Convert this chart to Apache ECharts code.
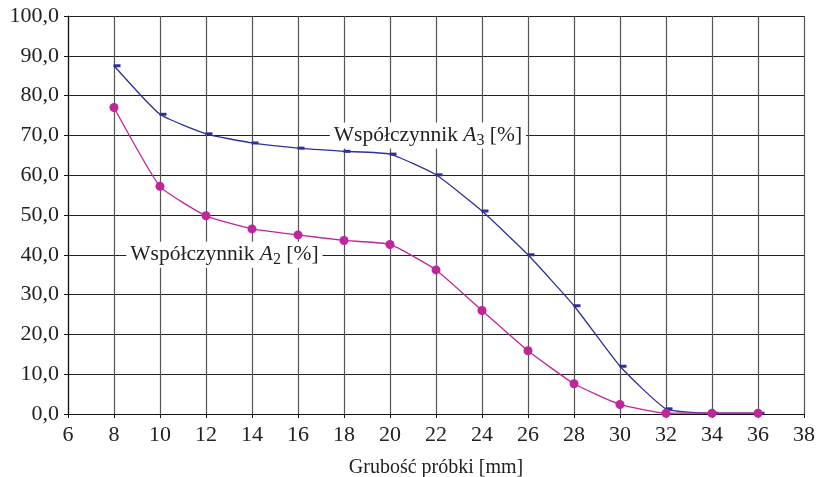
<!DOCTYPE html>
<html>
<head>
<meta charset="utf-8">
<script src="https://cdn.jsdelivr.net/npm/echarts@6/dist/echarts.min.js"></script>
<style>
  html, body { margin: 0; padding: 0; background: #fff; }
  #chart { width: 821px; height: 477px; }
</style>
</head>
<body>
<div id="chart"></div>
<script>
// grubość próbki [mm]
const thickness = [8, 10, 12, 14, 16, 18, 20, 22, 24, 26, 28, 30, 32, 34, 36];
// współczynnik A3 [%]
const coefA3 = [87.5, 75.3, 70.4, 68.1, 66.8, 66.0, 65.3, 60.1, 51.0, 40.0, 27.2, 12.0, 1.3, 0.2, 0.2];
// współczynnik A2 [%]
const coefA2 = [77.0, 57.2, 49.8, 46.5, 45.0, 43.6, 42.6, 36.2, 26.0, 15.9, 7.6, 2.4, 0.2, 0.2, 0.2];

const serif = '"Liberation Serif", "DejaVu Serif", serif';

const pairs = (ys) => thickness.map((x, i) => [x, ys[i]]);

const labelRich = {
  t: { fontFamily: serif, fontSize: 21.5, color: '#222' },
  a: { fontFamily: serif, fontSize: 21.5, fontStyle: 'italic', color: '#222' },
  s: { fontFamily: serif, fontSize: 16, color: '#222', padding: [10, 0, 0, 0] }
};

const chart = echarts.init(document.getElementById('chart'));

chart.setOption({
  animation: false,
  grid: { left: 68, right: 17, top: 16, bottom: 63, containLabel: false, outerBoundsMode: 'none' },
  xAxis: {
    type: 'value',
    min: 6,
    max: 38,
    interval: 2,
    name: 'Grubość próbki [mm]',
    nameLocation: 'middle',
    nameGap: 44,
    nameTextStyle: { fontFamily: serif, fontSize: 20, color: '#222' },
    axisLine: { lineStyle: { color: '#111', width: 1.2 } },
    axisTick: { show: true, length: 4, lineStyle: { color: '#111' } },
    axisLabel: { fontFamily: serif, fontSize: 22, color: '#222', margin: 10 },
    splitLine: { show: true, lineStyle: { color: '#555', width: 1.2 } }
  },
  yAxis: {
    type: 'value',
    min: 0,
    max: 100,
    interval: 10,
    axisLine: { show: true, lineStyle: { color: '#111', width: 1.2 } },
    axisTick: { show: true, length: 4, lineStyle: { color: '#111' } },
    axisLabel: {
      fontFamily: serif, fontSize: 22, color: '#222', margin: 9,
      formatter: (v) => v.toFixed(1).replace('.', ',')
    },
    splitLine: { show: true, lineStyle: { color: '#222', width: 1.2 } }
  },
  series: [
    {
      name: 'A3',
      type: 'line',
      data: pairs(coefA3),
      smooth: 0.15,
      symbol: 'rect',
      symbolSize: [7, 3],
      symbolOffset: [3, 0],
      lineStyle: { color: '#2e2f9c', width: 1.3 },
      itemStyle: { color: '#2e2f9c' },
      z: 3,
      markPoint: {
        symbol: 'circle',
        symbolSize: 0,
        data: [{ coord: [21.65, 70] }],
        label: {
          show: true,
          position: 'inside',
          backgroundColor: '#fff',
          padding: [0, 4, 0, 4],
          formatter: '{t|Współczynnik }{a|A}{s|3}{t| [%]}',
          rich: labelRich
        }
      }
    },
    {
      name: 'A2',
      type: 'line',
      data: pairs(coefA2),
      smooth: 0.15,
      symbol: 'circle',
      symbolSize: 9,
      lineStyle: { color: '#c0259b', width: 1.3 },
      itemStyle: { color: '#c0259b' },
      z: 4,
      markPoint: {
        symbol: 'circle',
        symbolSize: 0,
        data: [{ coord: [12.8, 40] }],
        label: {
          show: true,
          position: 'inside',
          backgroundColor: '#fff',
          padding: [0, 4, 0, 4],
          formatter: '{t|Współczynnik }{a|A}{s|2}{t| [%]}',
          rich: labelRich
        }
      }
    }
  ]
});
</script>
</body>
</html>
